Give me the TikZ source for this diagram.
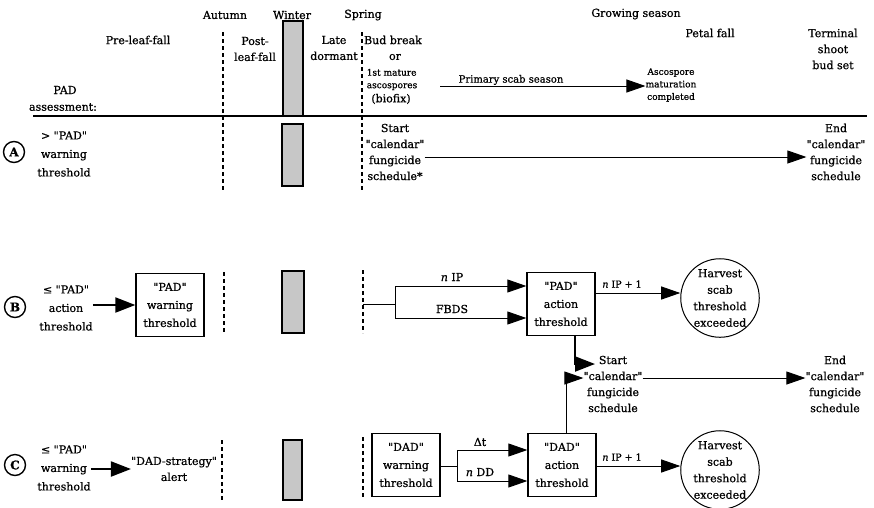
\documentclass[tikz,border=0pt]{standalone}
\usepackage{fontspec}
\setmainfont{DejaVu Serif}[Ligatures=TeXOff,FakeBold=0.8]
\usetikzlibrary{arrows.meta}
\begin{document}
\begin{tikzpicture}[x=1pt,y=-1pt,
	lbl/.style={font=\fontsize{11}{16}\selectfont,align=center,inner sep=0pt},
	sml/.style={font=\fontsize{9}{12.5}\selectfont,align=center,inner sep=0pt},
	case/.style={font=\fontsize{11}{18.5}\selectfont,align=center,inner sep=0pt},
	tag/.style={circle,draw,line width=1.4pt,minimum size=21pt,inner sep=0pt,font=\fontsize{12}{12}\selectfont\bfseries},
	stagebox/.style={draw,line width=1.3pt,minimum width=68pt,minimum height=63pt,align=center,inner sep=0pt,font=\fontsize{11}{18}\selectfont},
	harvest/.style={circle,draw,line width=1pt,minimum size=74pt,align=center,inner sep=0pt,font=\fontsize{11}{16.5}\selectfont},
	seasonline/.style={line width=1.5pt,dash pattern=on 4pt off 3pt},
	winter/.style={draw,line width=1.2pt,fill=black!22},
	flow/.style={line width=0.9pt,-{Triangle[length=19pt,width=13pt]}},
	fatflow/.style={line width=2pt,-{Triangle[length=20pt,width=15pt]}}]
	\useasboundingbox (0,0) rectangle (874,507);
	\node[lbl] (autumn) at (225,15) {Autumn};
	\node[lbl] (winter) at (292,15) {Winter};
	\node[lbl] (spring) at (363,15) {Spring};
	\node[lbl] (grow) at (636,14) {Growing season};
	\node[lbl] (preleaf) at (138,40) {Pre-leaf-fall};
	\node[lbl] (postleaf) at (255,49) {Post-\\leaf-fall};
	\node[lbl] (late) at (334,48) {Late\\dormant};
	\node[lbl] (budbreak) at (393,40) {Bud break};
	\node[lbl] (or) at (395,57) {or};
	\node[sml,align=left] (mature) at (392,79.5) {1st mature\\ascospores};
	\node[lbl] (biofix) at (391,99) {(biofix)};
	\node[sml] (ascomat) at (671,85) {Ascospore\\maturation\\completed};
	\node[lbl] (petal) at (710,33) {Petal fall};
	\node[lbl] (terminal) at (833,49) {Terminal\\shoot\\bud set};
	\node[lbl] (padlbl) at (65,90) {PAD};
	\node[lbl] (assess) at (63,107) {assessment:};
	\coordinate (scabrow) at (440,86);
	\node[sml,font=\fontsize{10}{12}\selectfont,anchor=south,inner sep=1pt] (primary) at (511,86) {Primary scab season};
	\draw[flow] (scabrow) -- (ascomat.west |- scabrow);
	\draw[line width=2.5pt] (33,116) -- (867,116);
	\draw[seasonline] (223,32) -- (223,190) (362,32) -- (362,190);
	\draw[seasonline] (224,272) -- (224,333) (363,270) -- (363,333);
	\draw[seasonline] (222,440) -- (222,500) (363,437) -- (363,497);
	\draw[winter] (283,21) rectangle (303,116);
	\draw[winter] (282,124) rectangle (303,186);
	\draw[winter] (282,271) rectangle (304,333);
	\draw[winter] (283,440) rectangle (302,500);
	\node[tag] (A) at (14,152) {A};
	\node[case] (caseA) at (64,154) {> "PAD"\\warning\\threshold};
	\node[lbl] (startA) at (395,152) {Start\\"calendar"\\fungicide\\schedule*};
	\node[lbl] (endA) at (836,152) {End\\"calendar"\\fungicide\\schedule};
	\coordinate (arow) at (0,157);
	\draw[flow] (startA.east |- arow) -- (endA.west |- arow);
	\node[tag] (B) at (15,307) {B};
	\node[case] (caseB) at (66,308) {≤ "PAD"\\action\\threshold};
	\node[stagebox] (padwarn) at (170,305) {"PAD"\\warning\\threshold};
	\draw[fatflow] (caseB.east |- padwarn.west) -- (padwarn.west);
	\node[stagebox] (padact) at (561,304) {"PAD"\\action\\threshold};
	\coordinate (bstart) at (363,304);
	\coordinate (bfork) at (395,304);
	\coordinate (bup) at (395,286);
	\coordinate (bdn) at (395,318);
	\draw[line width=0.9pt] (bstart) -- (bfork) (bup) -- (bdn);
	\draw[flow] (bup) -- (bup -| padact.west);
	\draw[flow] (bdn) -- (bdn -| padact.west);
	\node[lbl] (nipB) at (452,277) {\textit{n} IP};
	\node[lbl] (fbds) at (452,309) {FBDS};
	\node[harvest] (harvB) at (720,298) {Harvest\\scab\\threshold\\exceeded};
	\coordinate (bout) at (0,293);
	\draw[flow] (padact.east |- bout) -- (harvB.west |- bout);
	\node[lbl,font=\fontsize{9.5}{12}\selectfont] (nip1B) at (622,284) {\textit{n} IP + 1};
	\node[lbl] (startC) at (613,384) {Start\\"calendar"\\fungicide\\schedule};
	\node[lbl] (endC) at (835,384) {End\\"calendar"\\fungicide\\schedule};
	\coordinate (bendtip) at (595,364);
	\draw[fatflow] ([xshift=14pt]padact.south) |- (bendtip);
	\coordinate (crow) at (0,378);
	\draw[flow] (startC.east |- crow) -- (endC.west |- crow);
	\node[tag] (C) at (15,465) {C};
	\node[case] (caseC) at (64,468) {≤ "PAD"\\warning\\threshold};
	\node[lbl] (dadalert) at (174,469) {"DAD-strategy"\\alert};
	\draw[fatflow] (caseC.east |- dadalert.west) -- (dadalert.west);
	\node[stagebox] (dadwarn) at (406,465) {"DAD"\\warning\\threshold};
	\node[stagebox] (dadact) at (562,465) {"DAD"\\action\\threshold};
	\coordinate (cfork) at (457,466);
	\coordinate (cup) at (457,450);
	\coordinate (cdn) at (457,481);
	\draw[line width=0.9pt] (dadwarn.east |- cfork) -- (cfork) (cup) -- (cdn);
	\draw[flow] (cup) -- (cup -| dadact.west);
	\draw[flow] (cdn) -- (cdn -| dadact.west);
	\node[lbl] (dt) at (480,442) {Δt};
	\node[lbl] (ndd) at (480,472) {\textit{n} DD};
	\node[harvest] (harvC) at (720,470) {Harvest\\scab\\threshold\\exceeded};
	\coordinate (cout) at (0,466);
	\draw[flow] (dadact.east |- cout) -- (harvC.west |- cout);
	\node[lbl,font=\fontsize{9.5}{12}\selectfont] (nip1C) at (622,457) {\textit{n} IP + 1};
	\draw[flow] ([xshift=4pt]dadact.north) |- (startC.west |- crow);
\end{tikzpicture}
\end{document}
